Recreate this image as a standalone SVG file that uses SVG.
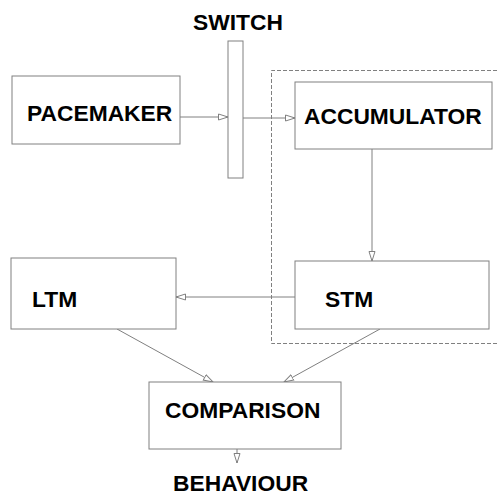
<svg xmlns="http://www.w3.org/2000/svg" width="497" height="496" viewBox="0 0 497 496">
<style>
.box{fill:#fff;stroke:#808080;stroke-width:1}
.lbl{font-family:"Liberation Sans",Arial,sans-serif;font-weight:bold;font-size:22.8px;fill:#000}
.con{stroke:#808080;stroke-width:1;fill:none;marker-end:url(#arr)}
.dash{fill:none;stroke:#808080;stroke-width:1;stroke-dasharray:4,2}
</style>
<defs>
<marker id="arr" markerUnits="userSpaceOnUse" markerWidth="12" markerHeight="10" refX="10" refY="4" orient="auto">
<path d="M0.5,1 L10,4 L0.5,7 z" fill="#fff" stroke="#808080" stroke-width="1"/>
</marker>
</defs>
<rect width="497" height="496" fill="#fff"/>
<path class="dash" d="M497,70.5 H271.5 V343.5 H497"/>
<g id="connectors">
<line class="con" x1="180" y1="117" x2="228" y2="117"/>
<line class="con" x1="243" y1="118" x2="295" y2="118"/>
<line class="con" x1="372" y1="149" x2="372" y2="261"/>
<line class="con" x1="295" y1="297" x2="176" y2="297"/>
<line class="con" x1="117" y1="329" x2="213" y2="382"/>
<line class="con" x1="380" y1="329" x2="284" y2="382"/>
<line class="con" x1="237" y1="449" x2="237" y2="463"/>
</g>
<g id="switch">
<rect class="box" x="228" y="41" width="15" height="137"/>
<text class="lbl" x="193" y="30">SWITCH</text>
</g>
<g id="pacemaker">
<rect class="box" x="12" y="76" width="168" height="68"/>
<text class="lbl" x="27" y="121">PACEMAKER</text>
</g>
<g id="accumulator">
<rect class="box" x="295" y="82" width="197" height="67"/>
<text class="lbl" x="304" y="124">ACCUMULATOR</text>
</g>
<g id="stm">
<rect class="box" x="295" y="261" width="194" height="68"/>
<text class="lbl" x="325" y="307">STM</text>
</g>
<g id="ltm">
<rect class="box" x="11" y="258" width="165" height="71"/>
<text class="lbl" x="32" y="307">LTM</text>
</g>
<g id="comparison">
<rect class="box" x="149" y="382" width="192" height="67"/>
<text class="lbl" x="165" y="418">COMPARISON</text>
</g>
<g id="behaviour">
<text class="lbl" x="173" y="491">BEHAVIOUR</text>
</g>
</svg>
